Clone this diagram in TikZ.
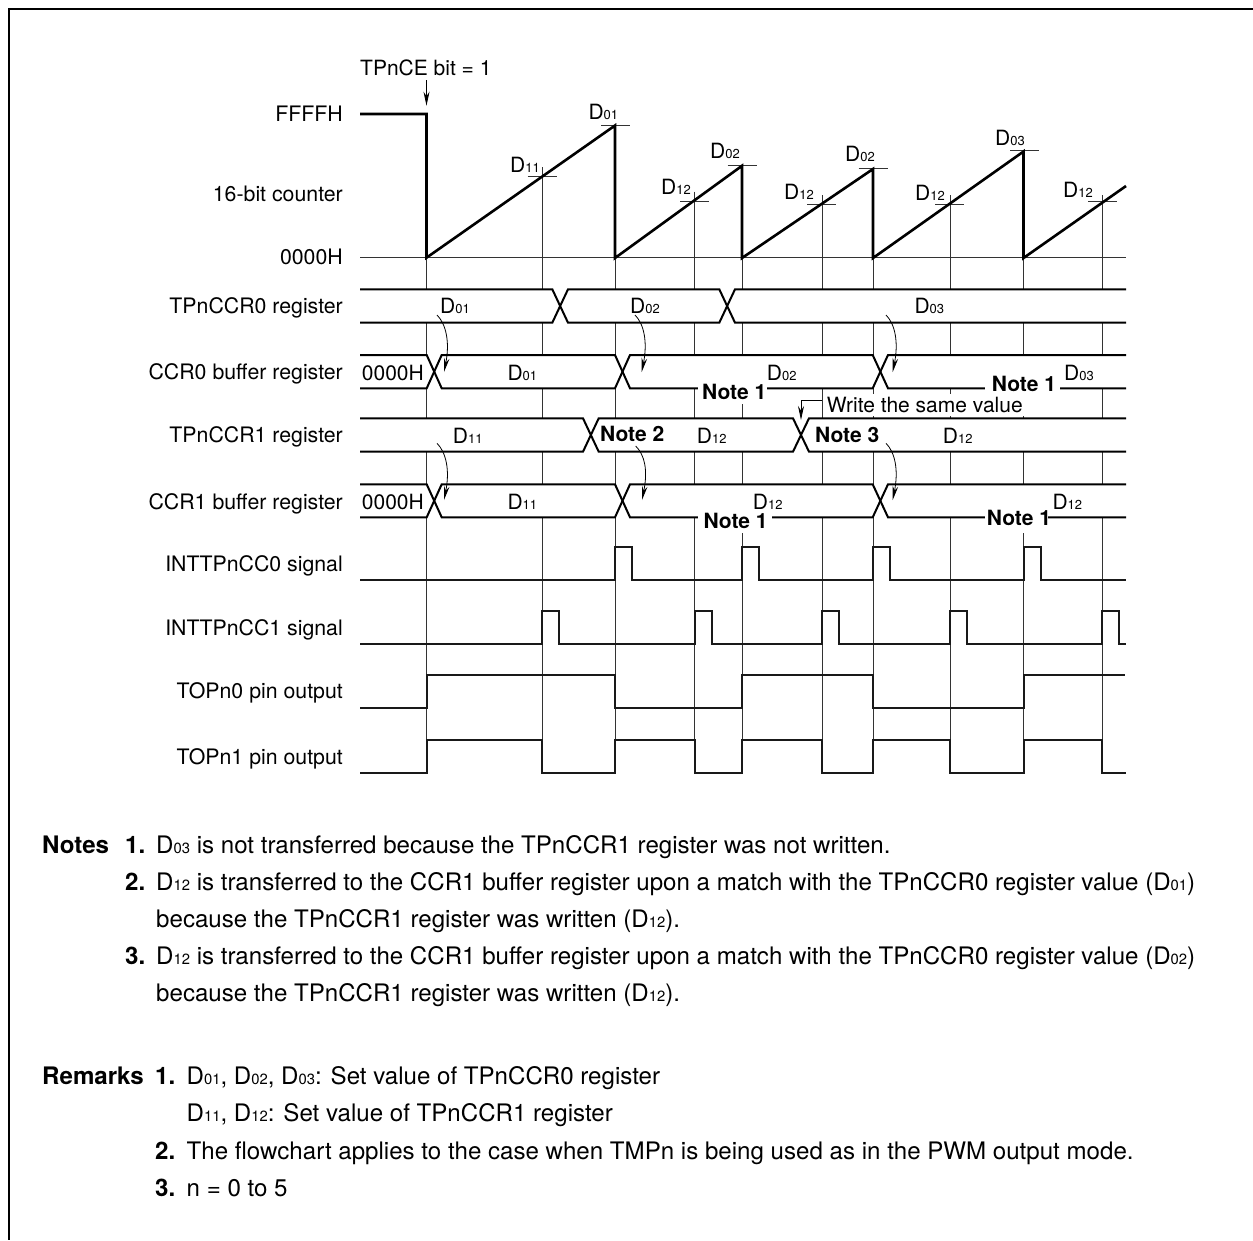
\documentclass[tikz,border=0pt]{standalone}
\usepackage{fontspec}
\setmainfont{TeX Gyre Heros}
\usetikzlibrary{arrows.meta}
\newcommand{\Dd}[1]{D{\fontsize{13}{13}\selectfont #1}}
\newcommand{\De}[1]{D{\fontsize{14.8}{14.8}\selectfont #1}}
\tikzset{
  x=1pt,y=-1pt,
  gridline/.style={line width=1pt,black!80},
  tickline/.style={line width=1pt,black!80},
  sawline/.style={line width=2.6pt,black,line join=miter},
  bus/.style={line width=2pt,black,line join=miter},
  wave/.style={line width=2pt,black!90,line join=miter},
  frameline/.style={line width=2pt,black},
  rowlabel/.style={anchor=base east,inner sep=0pt,font=\fontsize{21.3}{25}\selectfont},
  txt/.style={anchor=base west,inner sep=0pt},
  bodytxt/.style={anchor=base west,inner sep=0pt,font=\fontsize{24.1}{28}\selectfont},
  arr/.style={line width=0.8pt,black,-{Stealth[length=14pt,width=5.5pt]}},
  lead/.style={line width=0.9pt,black,-{Stealth[length=14pt,width=6pt]}},
}
\begin{document}
\begin{tikzpicture}[every node/.style={font=\fontsize{21}{25}\selectfont}]
\useasboundingbox (0,0) rectangle (1253,1240);
% frame
\draw[frameline] (1253,9) -- (9,9) -- (9,1240);
% vertical grid
\foreach \x/\t in {426.5/257.7,542/167,615/125,694.5/191.7,742/165,822/195,873/168,950/195,1023.5/151,1102/195}
  \draw[gridline] (\x,\t) -- (\x,772);
\draw[gridline] (360,257.7) -- (1126,257.7);
% D ticks
\foreach \x/\y in {615.5/125,542/176.7,694.5/201,742/165.3,821.5/204,873/168,949.5/204.3,1024.5/150.7,1102.5/201.7}
  \draw[tickline] (\x-14.5,\y) -- (\x+14.5,\y);
% sawtooth
\draw[sawline] (360,114) -- (426.5,114) -- (426.5,257.7) -- (615,125.5) -- (615,258) -- (742,165.8) -- (742,258) -- (873,169) -- (873,258) -- (1023.5,151.5) -- (1023.5,258) -- (1126,186);
% white rows
\foreach \a/\b in {289.3/322.7,355/388.3,418.3/451.7,484.3/517.3}
  \fill[white] (360,\a) rectangle (1126,\b);
% TPnCCR0
\draw[bus] (360,289.3) -- (552.3,289.3) -- (568,322.7) -- (719.3,322.7) -- (735,289.3) -- (1126,289.3);
\draw[bus] (360,322.7) -- (552.3,322.7) -- (568,289.3) -- (719.3,289.3) -- (735,322.7) -- (1126,322.7);
% CCR0 buffer
\draw[bus] (360,355) -- (426.7,355) -- (441.7,388.3) -- (615,388.3) -- (630,355) -- (872.7,355) -- (888,388.3) -- (1126,388.3);
\draw[bus] (360,388.3) -- (426.7,388.3) -- (441.7,355) -- (615,355) -- (630,388.3) -- (872.7,388.3) -- (888,355) -- (1126,355);
% TPnCCR1
\draw[bus] (360,418.3) -- (583,418.3) -- (598.7,451.7) -- (793,451.7) -- (809,418.3) -- (1126,418.3);
\draw[bus] (360,451.7) -- (583,451.7) -- (598.7,418.3) -- (793,418.3) -- (809,451.7) -- (1126,451.7);
% CCR1 buffer
\draw[bus] (360,484.3) -- (426.7,484.3) -- (441.7,517.3) -- (615,517.3) -- (630,484.3) -- (872.7,484.3) -- (888,517.3) -- (1126,517.3);
\draw[bus] (360,517.3) -- (426.7,517.3) -- (441.7,484.3) -- (615,484.3) -- (630,517.3) -- (872.7,517.3) -- (888,484.3) -- (1126,484.3);
% white masks behind notes
\fill[white] (698,378) rectangle (767,404);
\fill[white] (985,372) rectangle (1060,398);
\fill[white] (698,506) rectangle (772,533);
\fill[white] (985,505) rectangle (1048,533);
\fill[white] (822.6,394) rectangle (1027,416);
% pulses
\draw[wave] (360,580.3) -- (615,580.3) -- (615,546.7) -- (632,546.7) -- (632,580.3) -- (742,580.3) -- (742,546.7) -- (759,546.7) -- (759,580.3) -- (873,580.3) -- (873,546.7) -- (890,546.7) -- (890,580.3) -- (1023.5,580.3) -- (1023.5,546.7) -- (1041,546.7) -- (1041,580.3) -- (1126,580.3);
\draw[wave] (360,644.3) -- (542,644.3) -- (542,610.7) -- (559.3,610.7) -- (559.3,644.3) -- (694.5,644.3) -- (694.5,610.7) -- (711.7,610.7) -- (711.7,644.3) -- (822,644.3) -- (822,610.7) -- (839,610.7) -- (839,644.3) -- (950,644.3) -- (950,610.7) -- (967,610.7) -- (967,644.3) -- (1102,644.3) -- (1102,610.7) -- (1119.3,610.7) -- (1119.3,644.3) -- (1126,644.3);
\draw[wave] (360,708) -- (426.5,708) -- (426.5,674.7) -- (615,674.7) -- (615,708) -- (742,708) -- (742,674.7) -- (873,674.7) -- (873,708) -- (1023.5,708) -- (1023.5,674.7) -- (1125,674.7);
\draw[wave] (360,772.7) -- (426.5,772.7) -- (426.5,739.7) -- (542,739.7) -- (542,772.7) -- (615,772.7) -- (615,739.7) -- (694.5,739.7) -- (694.5,772.7) -- (742,772.7) -- (742,739.7) -- (822,739.7) -- (822,772.7) -- (873,772.7) -- (873,739.7) -- (950,739.7) -- (950,772.7) -- (1023.5,772.7) -- (1023.5,739.7) -- (1102,739.7) -- (1102,772.7) -- (1126,772.7);
% row labels
\node[rowlabel] (lFFFF) at (343,121.5) {FFFFH};
\node[rowlabel] (lcnt) at (343,201) {16-bit counter};
\node[rowlabel] (l0000) at (343,264.5) {0000H};
\node[rowlabel] (lr0) at (343,313) {TPnCCR0 register};
\node[rowlabel] (lb0) at (343,379) {CCR0 buffer register};
\node[rowlabel] (lr1) at (343,442) {TPnCCR1 register};
\node[rowlabel] (lb1) at (343,509) {CCR1 buffer register};
\node[rowlabel] (lcc0) at (343,571.5) {INTTPnCC0 signal};
\node[rowlabel] (lcc1) at (343,635) {INTTPnCC1 signal};
\node[rowlabel] (ltop0) at (343,698.5) {TOPn0 pin output};
\node[rowlabel] (ltop1) at (343,764.5) {TOPn1 pin output};
% counter values
\node[txt] (ce) at (360,75.7) {TPnCE bit = 1};
\coordinate (cetip) at (426.5,105.7);
\coordinate (cetop) at (426.5,80);
\draw[lead] (cetop) -- (cetip);
\node[txt] (c1) at (588.3,119) {\Dd{01}};
\node[txt] (c2) at (510,172.7) {\Dd{11}};
\node[txt] (c3) at (661,194) {\Dd{12}};
\node[txt] (c4) at (710,158) {\Dd{02}};
\node[txt] (c5) at (784,199) {\Dd{12}};
\node[txt] (c6) at (845,161.3) {\Dd{02}};
\node[txt] (c7) at (915,200) {\Dd{12}};
\node[txt] (c8) at (995,145.7) {\Dd{03}};
\node[txt] (c9) at (1063,197.3) {\Dd{12}};
% TPnCCR0 row
\node[txt] (r1) at (440,313.3) {\Dd{01}};
\node[txt] (r2) at (630,313.3) {\Dd{02}};
\node[txt] (r3) at (914.3,313) {\Dd{03}};
% CCR0 buffer row
\node[txt] (b0) at (361.7,380) {0000H};
\node[txt] (b1) at (507.3,380) {\Dd{01}};
\node[txt] (b2) at (766.7,380) {\Dd{02}};
\node[txt] (b3) at (1064,380) {\Dd{03}};
\node[txt] (n1) at (702,399) {\textbf{Note 1}};
\node[txt] (n2) at (991.7,391.7) {\textbf{Note 1}};
% TPnCCR1 row
\node[txt] (s1) at (452.7,443.3) {\Dd{11}};
\node[txt] (n3) at (600,441.7) {\textbf{Note 2}};
\node[txt] (s2) at (696.7,443.3) {\Dd{12}};
\node[txt] (n4) at (815,442.7) {\textbf{Note 3}};
\node[txt] (s3) at (942.7,443.3) {\Dd{12}};
\node[txt] (wr) at (826.7,412.7) {Write the same value};
\coordinate (wc) at (821.7,400);
\coordinate (wt) at (801,420);
\draw[lead] (wc) -- (wc -| wt) -- (wt);
% CCR1 buffer row
\node[txt] (t0) at (361.7,509.3) {0000H};
\node[txt] (t1) at (507.3,509.3) {\Dd{11}};
\node[txt] (t2) at (752.7,509) {\Dd{12}};
\node[txt] (t3) at (1052.3,509) {\Dd{12}};
\node[txt] (n5) at (703.3,528.3) {\textbf{Note 1}};
\node[txt] (n6) at (986.7,525.7) {\textbf{Note 1}};
% transfer arrows
\foreach \x/\y/\tx/\ty [count=\i] in {437/315/444/372,635/315/641.7/372,886/315/892.7/372,437/443.3/444/500,635.7/446/642/500,886/443.3/892.7/500}{
  \coordinate (as\i) at (\x,\y);
  \coordinate (at\i) at (\tx,\ty);
  \draw[arr] (as\i) .. controls (\x+9,\y+9) and (\tx+6,\ty-30) .. (at\i);
}
% notes
\node[bodytxt] (nh) at (42,853) {\textbf{Notes}};
\node[bodytxt] (n1a) at (125,853) {\textbf{1.}};
\node[bodytxt] (n1b) at (156,853) {\De{03} is not transferred because the TPnCCR1 register was not written.};
\node[bodytxt] (n2a) at (125,890) {\textbf{2.}};
\node[bodytxt] (n2b) at (156,890) {\De{12} is transferred to the CCR1 buffer register upon a match with the TPnCCR0 register value (\De{01})};
\node[bodytxt] (n2c) at (156,927.5) {because the TPnCCR1 register was written (\De{12}).};
\node[bodytxt] (n3a) at (125,964.5) {\textbf{3.}};
\node[bodytxt] (n3b) at (156,964.5) {\De{12} is transferred to the CCR1 buffer register upon a match with the TPnCCR0 register value (\De{02})};
\node[bodytxt] (n3c) at (156,1001.5) {because the TPnCCR1 register was written (\De{12}).};
% remarks
\node[bodytxt] (rh) at (42,1084.3) {\textbf{Remarks}};
\node[bodytxt] (r1a) at (155,1084.3) {\textbf{1.}};
\node[bodytxt] (r1b) at (186.5,1084.3) {\De{01}, \De{02}, \De{03}: Set value of TPnCCR0 register};
\node[bodytxt] (r1c) at (186.5,1121.7) {\De{11}, \De{12}: Set value of TPnCCR1 register};
\node[bodytxt] (r2a) at (155,1159.5) {\textbf{2.}};
\node[bodytxt] (r2b) at (186.5,1159.5) {The flowchart applies to the case when TMPn is being used as in the PWM output mode.};
\node[bodytxt] (r3a) at (155,1196) {\textbf{3.}};
\node[bodytxt] (r3b) at (186.5,1196) {n = 0 to 5};
\end{tikzpicture}
\end{document}
